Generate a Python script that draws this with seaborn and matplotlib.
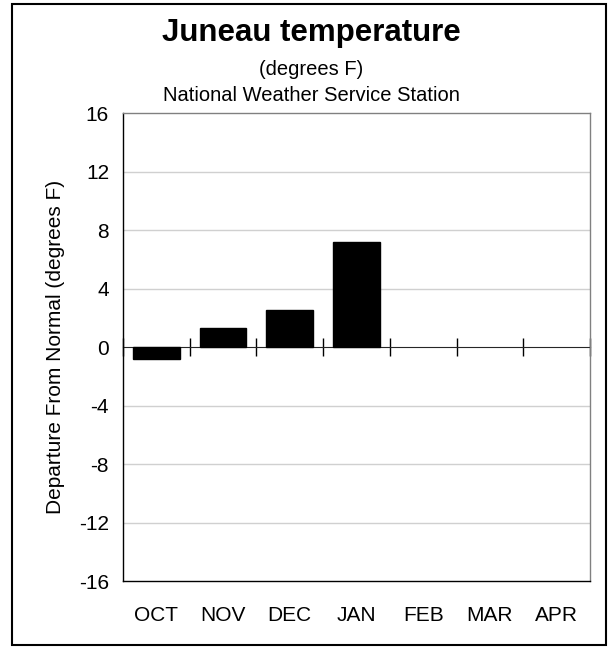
import numpy as np
import pandas as pd
import seaborn as sns
import matplotlib.pyplot as plt
from matplotlib.patches import Rectangle

# data
months = ["OCT", "NOV", "DEC", "JAN", "FEB", "MAR", "APR"]
obs_months = ["OCT", "NOV", "DEC", "JAN"]
departure = [-0.8, 1.3, 2.5, 7.2]
y_ticks = [-16, -12, -8, -4, 0, 4, 8, 12, 16]
grid_vals = [-12, -8, -4, 4, 8, 12]

df = pd.DataFrame({"month": obs_months, "departure": departure})

sns.set_style("white")
plt.rcParams['font.family'] = ['Liberation Sans', 'DejaVu Sans']
plt.rcParams.update({"text.color": "black", "axes.labelcolor": "black",
                     "xtick.color": "black", "ytick.color": "black"})

fig = plt.figure(figsize=(6.08, 6.47), dpi=100)
ax = fig.add_axes([0.2023, 0.102, 0.768, 0.7233])

for g in grid_vals:
    ax.axhline(g, color="#d0d0d0", lw=1, zorder=0)

sns.barplot(data=df, x="month", y="departure", order=months,
            color="black", edgecolor="black", width=0.7, ax=ax, zorder=2)

ax.set_xlim(-0.5, 6.5)
ax.set_ylim(-16, 16)
ax.set_yticks(y_ticks)
ax.set_yticklabels([str(v) for v in y_ticks])
ax.tick_params(axis="y", direction="inout", length=14, width=1, color="black",
               labelsize=15, pad=3)
ax.tick_params(axis="x", length=0, labelsize=15, pad=18)
ax.set_xlabel("")
ax.set_ylabel("Departure From Normal (degrees F)", fontsize=15, labelpad=10)

for s in ["left", "bottom"]:
    ax.spines[s].set_color("black")
    ax.spines[s].set_linewidth(1)
for s in ["top", "right"]:
    ax.spines[s].set_color("#808080")
    ax.spines[s].set_linewidth(1)

# zero line with crossing ticks at category boundaries
sec = ax.secondary_xaxis(0.5)
sec.set_xticks(np.arange(len(months) + 1) - 0.5)
sec.set_xticklabels([])
sec.tick_params(direction="inout", length=13, width=1, color="black")
sec.spines["bottom"].set_color("black")
sec.spines["bottom"].set_linewidth(1)

fig.text(0.512, 0.949, "Juneau temperature", ha="center", va="center",
         fontsize=22.5, fontweight="bold")
fig.text(0.512, 0.892, "(degrees F)", ha="center", va="center", fontsize=14.5)
fig.text(0.512, 0.853, "National Weather Service Station", ha="center",
         va="center", fontsize=14.5)

fig.patches.append(Rectangle((12 / 608, 1 - 645 / 647), 594 / 608, 641 / 647,
                             transform=fig.transFigure, fill=False,
                             edgecolor="black", lw=1.5))

fig.savefig("out.png", dpi=100)
